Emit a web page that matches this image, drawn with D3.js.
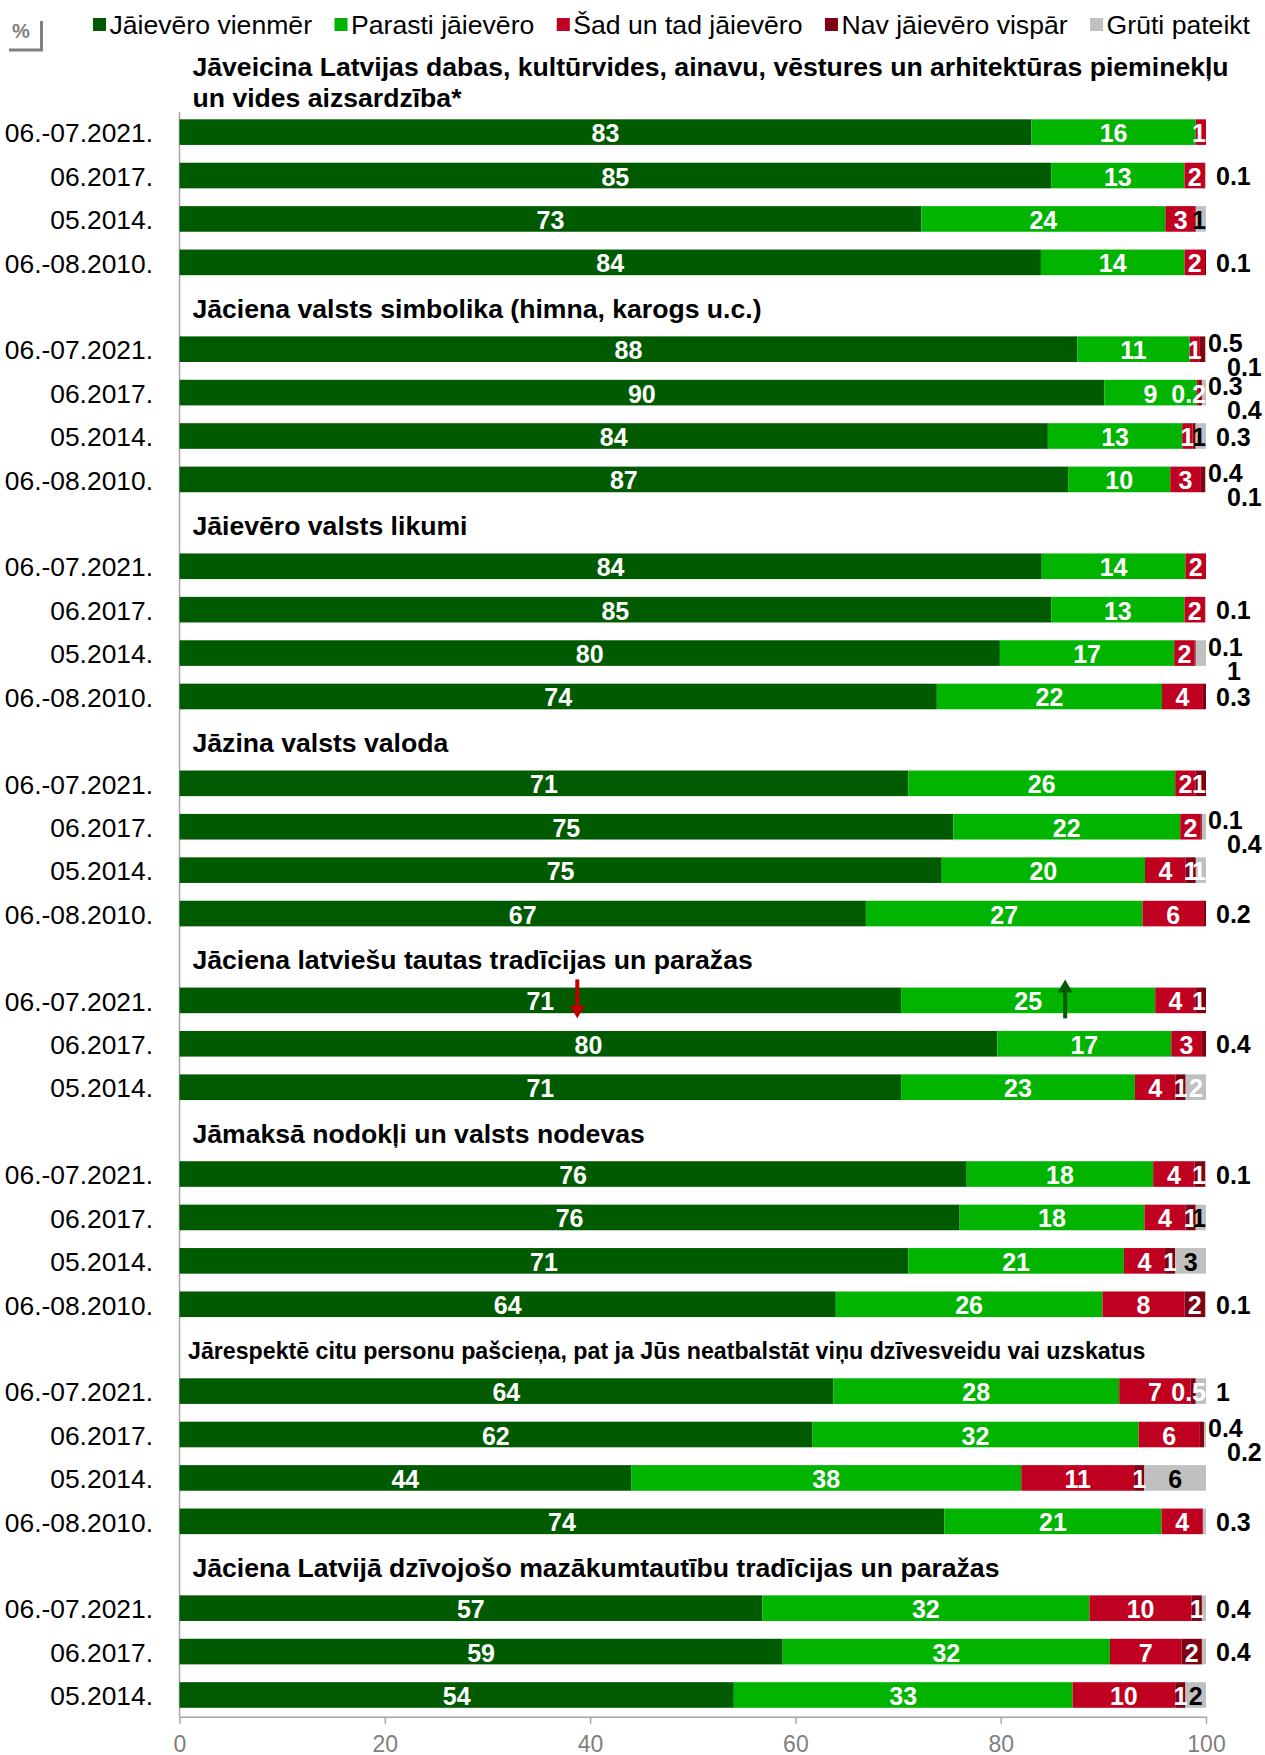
<!DOCTYPE html>
<html>
<head>
<meta charset="utf-8">
<script src="https://cdn.jsdelivr.net/npm/d3@7"></script>
<style>
	body { margin: 0; background: #fff; }
	svg { font-family: "Liberation Sans", Arial, sans-serif; }
</style>
</head>
<body>
<svg width="1265" height="1755"></svg>
<script>
var seriesNames = ["Jāievēro vienmēr", "Parasti jāievēro", "Šad un tad jāievēro", "Nav jāievēro vispār", "Grūti pateikt"];

var groupTitles = [
	["Jāveicina Latvijas dabas, kultūrvides, ainavu, vēstures un arhitektūras pieminekļu", "un vides aizsardzība*"],
	["Jāciena valsts simbolika (himna, karogs u.c.)"],
	["Jāievēro valsts likumi"],
	["Jāzina valsts valoda"],
	["Jāciena latviešu tautas tradīcijas un paražas"],
	["Jāmaksā nodokļi un valsts nodevas"],
	["Jārespektē citu personu pašcieņa, pat ja Jūs neatbalstāt viņu dzīvesveidu vai uzskatus"],
	["Jāciena Latvijā dzīvojošo mazākumtautību tradīcijas un paražas"]
];

var periods4 = ["06.-07.2021.", "06.2017.", "05.2014.", "06.-08.2010."];
var periods3 = ["06.-07.2021.", "06.2017.", "05.2014."];
var groupPeriods = [periods4, periods4, periods4, periods4, periods3, periods4, periods4, periods3];

// one value per bar, bars in the order of the groups above
var vienmer   = [83, 85, 73, 84,  88, 90, 84, 87,  84, 85, 80, 74,  71, 75, 75, 67,  71, 80, 71,  76, 76, 71, 64,  64, 62, 44, 74,  57, 59, 54];
var parasti   = [16, 13, 24, 14,  11, 9, 13, 10,   14, 13, 17, 22,  26, 22, 20, 27,  25, 17, 23,  18, 18, 21, 26,  28, 32, 38, 21,  32, 32, 33];
var sadUnTad  = [1, 2, 3, 2,      1, 0.2, 1, 3,    2, 2, 2, 4,      2, 2, 4, 6,      4, 3, 4,     4, 4, 4, 8,      7, 6, 11, 4,     10, 7, 10];
var navVispar = [0, 0, 0, 0.1,    0.5, 0.3, 0.3, 0.4, 0, 0, 0.1, 0.3, 1, 0.1, 1, 0.2, 1, 0.4, 1,  1, 1, 1, 2,      0.5, 0.4, 1, 0,  1, 2, 1];
var gruti     = [0, 0.1, 1, 0,    0.1, 0.4, 1, 0.1, 0, 0.1, 1, 0,    0, 0.4, 1, 0,    0, 0, 2,     0.1, 1, 3, 0.1,  1, 0.2, 6, 0.3,  0.4, 0.4, 2];

// significant changes marked on the chart
var arrows = [{bar: 16, series: 0, dir: "down"}, {bar: 16, series: 1, dir: "up"}];

var colors = ["#005a00", "#00b400", "#c00020", "#800014", "#c0c0c0"];
var keys = ["v0", "v1", "v2", "v3", "v4"];
// labels that do not follow the "below 1 goes outside" rule
var labelPlace = {"5-2": "in", "10-4": "out", "23-3": "in", "23-4": "out"};
// grey segment labels that are drawn white
var whiteGrey = {"14-4": true, "18-4": true};

var svg = d3.select("svg");
var rows = [], bars = [], k = 0;

groupTitles.forEach(function (t, g) {
	rows.push("t" + g);
	groupPeriods[g].forEach(function (p) {
		rows.push("b" + k);
		bars.push({id: "b" + k, index: k, group: g, period: p,
			v0: vienmer[k], v1: parasti[k], v2: sadUnTad[k], v3: navVispar[k], v4: gruti[k]});
		k++;
	});
});

var x = d3.scaleLinear().domain([0, 100]).range([179.5, 1206]);
var y = d3.scaleBand().domain(rows).range([67, 1716.7]).paddingInner(0.41).paddingOuter(0.205);
var bw = y.bandwidth();
function cy(id) { return y(id) + bw / 2; }

var layers = d3.stack().keys(keys).offset(d3.stackOffsetExpand)(bars);

// legend
var lx = 93;
seriesNames.forEach(function (name, i) {
	svg.append("rect")
	.attr("x", lx).attr("y", 18).attr("width", 13).attr("height", 13)
	.attr("fill", colors[i]);
	var t = svg.append("text")
	.attr("x", lx + 16.5).attr("y", 34)
	.attr("font-size", 26.6)
	.attr("fill", "#000")
	.text(name);
	lx = lx + 16.5 + t.node().getComputedTextLength() + 22.5;
});

// % box
svg.append("text")
.attr("x", 21).attr("y", 38)
.attr("text-anchor", "middle")
.attr("font-size", 20)
.attr("font-weight", "bold")
.attr("fill", "#808080")
.text("%");
svg.append("path")
.attr("d", "M9,50 H41.5 V21")
.attr("fill", "none")
.attr("stroke", "#808080")
.attr("stroke-width", 3);

// group titles
groupTitles.forEach(function (t, g) {
	var c = cy("t" + g);
	var txt = svg.append("text")
	.attr("x", g == 6 ? 188 : 192.5)
	.attr("font-size", g == 6 ? 23.2 : 26.6)
	.attr("font-weight", "bold")
	.attr("fill", "#000");
	if (t.length == 1) {
		txt.attr("y", c + 3).attr("dy", "0.35em").text(t[0]);
	} else {
		txt.selectAll("tspan")
		.data(t)
		.enter().append("tspan")
		.attr("x", 192.5)
		.attr("y", function (d, i) {return c - 22 + i * 31;})
		.attr("dy", "0.35em")
		.text(function (d) {return d;});
	}
});

// period labels
svg.append("g").selectAll("text")
.data(bars)
.enter().append("text")
.attr("x", 153)
.attr("y", function (d) {return cy(d.id) + 1;})
.attr("dy", "0.35em")
.attr("text-anchor", "end")
.attr("font-size", 26.4)
.attr("fill", "#000")
.text(function (d) {return d.period;});

// vertical axis line
svg.append("line")
.attr("x1", x(0)).attr("x2", x(0))
.attr("y1", 112).attr("y2", 1716.7)
.attr("stroke", "#a6a6a6")
.attr("stroke-width", 1.5);

// bars
svg.append("g").selectAll("g")
.data(layers)
.enter().append("g")
.attr("fill", function (d, i) {return colors[i];})
.selectAll("rect")
.data(function (d) {return d;})
.enter().append("rect")
.attr("x", function (d) {return x(d[0] * 100);})
.attr("y", function (d) {return y(d.data.id);})
.attr("width", function (d) {return x(d[1] * 100) - x(d[0] * 100);})
.attr("height", bw);

// value labels
var barEnd = x(100);
var outside = {};
layers.forEach(function (layer, i) {
	layer.forEach(function (d) {
		var b = d.data, v = b[keys[i]];
		if (!(v > 0)) return;
		var key = b.index + "-" + i;
		var place = labelPlace[key] || (v < 1 ? "out" : "in");
		if (place == "out") {
			(outside[b.id] = outside[b.id] || []).push(v);
			return;
		}
		var mid = x((d[0] + d[1]) * 50);
		var t = svg.append("text")
		.attr("y", cy(b.id))
		.attr("dy", "0.4em")
		.attr("text-anchor", "middle")
		.attr("font-size", 25)
		.attr("font-weight", "bold")
		.attr("fill", i == 4 && !whiteGrey[key] ? "#000" : "#fff")
		.text(v);
		var w = t.node().getComputedTextLength();
		t.attr("x", Math.min(mid, barEnd - w / 2));
	});
});

bars.forEach(function (b) {
	var list = outside[b.id];
	if (!list) return;
	list.forEach(function (v, j) {
		var dx = list.length == 1 ? 10 : (j == 0 ? 2 : 21);
		var dy = list.length == 1 ? 0 : (j == 0 ? -7 : 17);
		svg.append("text")
		.attr("x", barEnd + dx)
		.attr("y", cy(b.id) + dy)
		.attr("dy", "0.38em")
		.attr("font-size", 25)
		.attr("font-weight", "bold")
		.attr("fill", "#000")
		.text(v);
	});
});

// change arrows
arrows.forEach(function (a) {
	var d = layers[a.series][a.bar];
	var ax = x((d[0] + d[1]) * 50) + 37;
	var c = cy(d.data.id);
	var col = a.dir == "down" ? "#c00000" : "#005a00";
	var tip = a.dir == "down" ? c + 18 : c - 21;
	var tail = a.dir == "down" ? c - 21 : c + 18;
	var base = a.dir == "down" ? tip - 13 : tip + 13;
	svg.append("line")
	.attr("x1", ax).attr("x2", ax)
	.attr("y1", tail).attr("y2", base)
	.attr("stroke", col)
	.attr("stroke-width", 4);
	svg.append("path")
	.attr("d", "M" + (ax - 7.5) + "," + base + " L" + (ax + 7.5) + "," + base + " L" + ax + "," + tip + " Z")
	.attr("fill", col);
});

// x axis
var xAxis = svg.append("g")
.attr("transform", "translate(0," + 1716.7 + ")")
.call(d3.axisBottom(x).tickValues([0, 20, 40, 60, 80, 100]).tickSize(7).tickSizeOuter(0).tickPadding(12));
xAxis.select(".domain").attr("stroke", "#a6a6a6").attr("stroke-width", 1.5);
xAxis.selectAll(".tick line").attr("stroke", "#a6a6a6").attr("stroke-width", 1.5);
xAxis.selectAll(".tick text")
.attr("font-size", 23)
.attr("font-family", "Liberation Sans, Arial, sans-serif")
.attr("fill", "#7f7f7f");
</script>
</body>
</html>
